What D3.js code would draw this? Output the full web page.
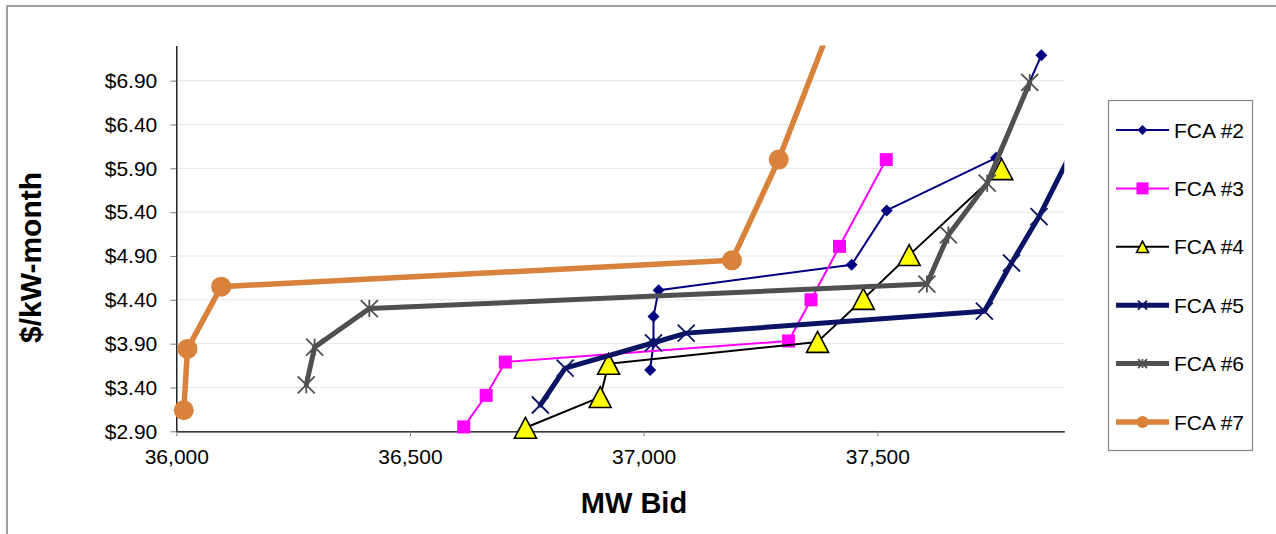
<!DOCTYPE html>
<html>
<head>
<meta charset="utf-8">
<script src="https://cdn.jsdelivr.net/npm/d3@7/dist/d3.min.js"></script>
<style>
  html, body { margin: 0; padding: 0; background: #ffffff; }
  svg { display: block; font-family: "Liberation Sans", Arial, sans-serif; }
</style>
</head>
<body>
<svg id="chart" width="1276" height="534"></svg>
<script>
// ---- Data ----
const seriesNames = ["FCA #2", "FCA #3", "FCA #4", "FCA #5", "FCA #6", "FCA #7"];

const fca2X = [37014, 37021, 37021, 37032, 37445, 37520, 37754, 37851];
const fca2Y = [3.60, 3.91, 4.21, 4.51, 4.80, 5.42, 6.02, 7.19];

const fca3X = [36615, 36663, 36704, 37310, 37358, 37419, 37519];
const fca3Y = [2.95, 3.31, 3.69, 3.93, 4.40, 5.01, 6.00];

const fca4X = [36747, 36907, 36925, 37372, 37470, 37568, 37766];
const fca4Y = [2.94, 3.29, 3.67, 3.92, 4.41, 4.91, 5.89];

const fca5X = [36779, 36832, 37021, 37091, 37729, 37787, 37846, 37950];
const fca5Y = [3.20, 3.62, 3.91, 4.02, 4.27, 4.82, 5.35, 6.45];

const fca6X = [36278, 36296, 36413, 37606, 37652, 37735, 37826];
const fca6Y = [3.43, 3.86, 4.30, 4.58, 5.14, 5.73, 6.88];

const fca7X = [36016, 36024, 36096, 37189, 37289, 37420];
const fca7Y = [3.14, 3.84, 4.55, 4.85, 6.00, 7.80];

const xTicks = [36000, 36500, 37000, 37500];
const yTicks = [2.90, 3.40, 3.90, 4.40, 4.90, 5.40, 5.90, 6.40, 6.90];
const xDomain = [36000, 37900];
const yDomain = [2.90, 7.30];

const xTitle = "MW Bid";
const yTitle = "$/kW-month";

// ---- Styles ----
const styles = [
  { color: "#000080", width: 2,   marker: "diamond",  mFill: "#000080", mStroke: "none" },
  { color: "#ff00ff", width: 2,   marker: "square",   mFill: "#ff00ff", mStroke: "none" },
  { color: "#000000", width: 2,   marker: "triangle", mFill: "#ffff00", mStroke: "#000000" },
  { color: "#0b1464", width: 5,   marker: "x",        mFill: "none",    mStroke: "#0b1464" },
  { color: "#505050", width: 5,   marker: "star",     mFill: "none",    mStroke: "#505050" },
  { color: "#d9823b", width: 5.5, marker: "circle",   mFill: "#d9823b", mStroke: "none" }
];

const seriesData = [
  [fca2X, fca2Y], [fca3X, fca3Y], [fca4X, fca4Y],
  [fca5X, fca5Y], [fca6X, fca6Y], [fca7X, fca7Y]
].map(([xs, ys]) => xs.map((x, i) => ({ x: x, y: ys[i] })));

// ---- Layout ----
const svg = d3.select("#chart");
const plotL = 176.3, plotR = 1064.3, plotT = 45.6, plotB = 431.3;
const FONT = 21;

const x = d3.scaleLinear().domain(xDomain).range([plotL, plotR]);
const y = d3.scaleLinear().domain(yDomain).range([plotB, plotT]);

// outer chart border
svg.append("rect")
  .attr("x", 7).attr("y", 6).attr("width", 1290).attr("height", 560)
  .attr("fill", "#ffffff").attr("stroke", "#808080").attr("stroke-width", 1.5);

// clip for lines
svg.append("defs").append("clipPath").attr("id", "plotClip")
  .append("rect").attr("x", plotL).attr("y", plotT)
  .attr("width", plotR - plotL).attr("height", plotB - plotT);

// gridlines
svg.append("g").selectAll("line").data(yTicks).join("line")
  .attr("x1", plotL).attr("x2", plotR)
  .attr("y1", d => y(d)).attr("y2", d => y(d))
  .attr("stroke", "#e6e6e6").attr("stroke-width", 1);

// axes
const xAxis = d3.axisBottom(x).tickValues(xTicks).tickFormat(d3.format(","))
  .tickSize(5).tickSizeOuter(0).tickPadding(13);
const gx = svg.append("g").attr("transform", `translate(0,${plotB})`).call(xAxis);
gx.select(".domain").attr("stroke", "#000").attr("stroke-width", 1.3);
gx.selectAll(".tick line").attr("stroke", "#808080");
gx.selectAll(".tick text").attr("font-size", FONT).attr("fill", "#000")
  .attr("font-family", '"Liberation Sans", Arial, sans-serif');

const yAxis = d3.axisLeft(y).tickValues(yTicks).tickFormat(d => "$" + d.toFixed(2))
  .tickSize(6).tickSizeOuter(0).tickPadding(13);
const gy = svg.append("g").attr("transform", `translate(${plotL},0)`).call(yAxis);
gy.select(".domain").attr("stroke", "#000").attr("stroke-width", 1.3);
gy.selectAll(".tick line").attr("stroke", "#808080");
gy.selectAll(".tick text").attr("font-size", FONT).attr("fill", "#000")
  .attr("font-family", '"Liberation Sans", Arial, sans-serif');

// axis titles
svg.append("text").attr("x", 634).attr("y", 513)
  .attr("text-anchor", "middle").attr("font-size", 29).attr("font-weight", "bold")
  .text(xTitle);
svg.append("text").attr("transform", "translate(41,257.5) rotate(-90)")
  .attr("text-anchor", "middle").attr("font-size", 30).attr("font-weight", "bold")
  .text(yTitle);

// marker drawing
function drawMarker(g, type, cx, cy, s, st) {
  if (type === "diamond") {
    g.append("path").attr("d", `M${cx},${cy - s}L${cx + s},${cy}L${cx},${cy + s}L${cx - s},${cy}Z`)
      .attr("fill", st.mFill);
  } else if (type === "square") {
    g.append("rect").attr("x", cx - s).attr("y", cy - s).attr("width", 2 * s).attr("height", 2 * s)
      .attr("fill", st.mFill);
  } else if (type === "triangle") {
    const h = s * 0.95;
    g.append("path").attr("d", `M${cx},${cy - h}L${cx + s},${cy + h}L${cx - s},${cy + h}Z`)
      .attr("fill", st.mFill).attr("stroke", st.mStroke).attr("stroke-width", 1.6)
      .attr("stroke-linejoin", "miter");
  } else if (type === "x" || type === "star") {
    const p = g.append("path")
      .attr("d", `M${cx - s},${cy - s}L${cx + s},${cy + s}M${cx - s},${cy + s}L${cx + s},${cy - s}` +
        (type === "star" ? `M${cx},${cy - s}L${cx},${cy + s}` : ""))
      .attr("fill", "none").attr("stroke", st.mStroke).attr("stroke-width", 1.8);
  } else if (type === "circle") {
    g.append("circle").attr("cx", cx).attr("cy", cy).attr("r", s).attr("fill", st.mFill);
  }
}
const plotMarkerSize = { diamond: 6, square: 6.5, triangle: 11, x: 8.5, star: 8.5, circle: 10 };
const legendMarkerSize = { diamond: 5, square: 6, triangle: 6, x: 4.5, star: 4.5, circle: 6 };

const line = d3.line().x(d => x(d.x)).y(d => y(d.y));

seriesData.forEach((pts, i) => {
  const st = styles[i];
  const g = svg.append("g");
  g.append("path").datum(pts)
    .attr("d", line).attr("fill", "none")
    .attr("stroke", st.color).attr("stroke-width", st.width)
    .attr("stroke-linejoin", "round").attr("stroke-linecap", "round")
    .attr("clip-path", "url(#plotClip)");
  pts.filter(d => d.x >= xDomain[0] && d.x <= xDomain[1] && d.y >= yDomain[0] && d.y <= yDomain[1])
    .forEach(d => drawMarker(g, st.marker, x(d.x), y(d.y), plotMarkerSize[st.marker], st));
});

// legend
const legend = svg.append("g");
legend.append("rect").attr("x", 1108.5).attr("y", 100.5).attr("width", 144).attr("height", 350)
  .attr("fill", "#ffffff").attr("stroke", "#888888").attr("stroke-width", 1.2);
const legendY = d3.scaleLinear().domain([0, seriesNames.length - 1]).range([130, 422]);
seriesNames.forEach((name, i) => {
  const st = styles[i];
  const ly = legendY(i);
  legend.append("line").attr("x1", 1116).attr("x2", 1169).attr("y1", ly).attr("y2", ly)
    .attr("stroke", st.color).attr("stroke-width", st.width);
  drawMarker(legend, st.marker, 1142.5, ly, legendMarkerSize[st.marker], st);
  legend.append("text").attr("x", 1174).attr("y", ly).attr("dy", "0.36em")
    .attr("font-size", FONT).attr("fill", "#000").text(name);
});
</script>
</body>
</html>
